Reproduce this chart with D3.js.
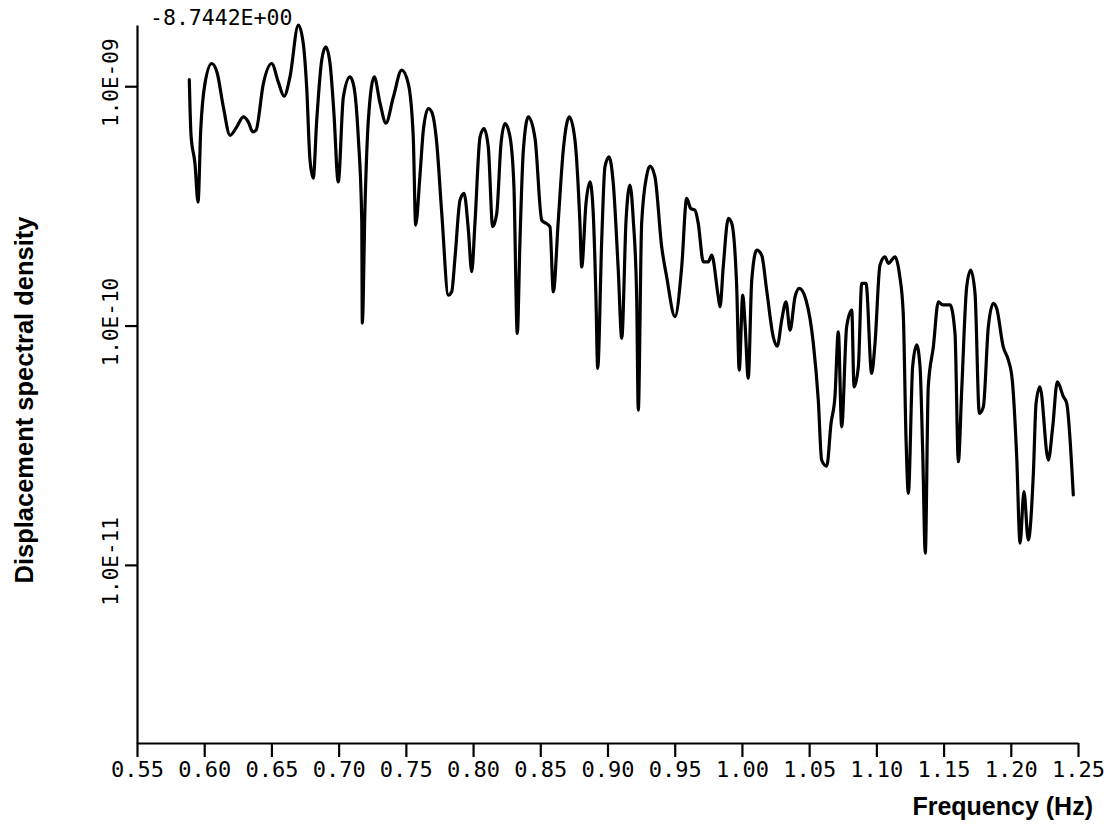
<!DOCTYPE html>
<html>
<head>
<meta charset="utf-8">
<script src="https://cdn.jsdelivr.net/npm/d3@7"></script>
<style>
  html, body { margin: 0; padding: 0; background: #fff; }
  svg { display: block; }
  .tick-label { font-family: "DejaVu Sans Mono", "Liberation Mono", monospace; fill: #000; }
  .title { font-family: "Liberation Sans", Arial, sans-serif; font-weight: bold; fill: #000; }
</style>
</head>
<body>
<svg id="chart" width="1114" height="824"></svg>
<script>
// Displacement spectral density vs frequency (log10 of the density, as plotted)
const frequencyHz = [
  0.5889, 0.5902, 0.5931, 0.5954, 0.5974, 0.6006, 0.6056, 0.6097, 0.6142, 0.6192,
  0.6242, 0.6291, 0.6328, 0.6361, 0.6385, 0.6440, 0.6502, 0.6551, 0.6594, 0.6638,
  0.6700, 0.6737, 0.6762, 0.6787, 0.6811, 0.6837, 0.6874, 0.6904, 0.6936, 0.6965,
  0.6997, 0.7035, 0.7085, 0.7114, 0.7146, 0.7172, 0.7176, 0.7196, 0.7221, 0.7265,
  0.7308, 0.7352, 0.7407, 0.7469, 0.7518, 0.7555, 0.7573, 0.7605, 0.7630, 0.7667,
  0.7692, 0.7729, 0.7767, 0.7816, 0.7841, 0.7866, 0.7903, 0.7933, 0.7965, 0.7990,
  0.8014, 0.8052, 0.8081, 0.8113, 0.8146, 0.8176, 0.8208, 0.8238, 0.8275, 0.8304,
  0.8329, 0.8349, 0.8374, 0.8411, 0.8461, 0.8511, 0.8543, 0.8572, 0.8597, 0.8634,
  0.8671, 0.8716, 0.8758, 0.8795, 0.8808, 0.8840, 0.8870, 0.8894, 0.8914, 0.8927,
  0.8957, 0.8981, 0.9011, 0.9043, 0.9080, 0.9106, 0.9138, 0.9167, 0.9192, 0.9217,
  0.9229, 0.9254, 0.9292, 0.9316, 0.9353, 0.9403, 0.9440, 0.9502, 0.9552, 0.9589,
  0.9619, 0.9651, 0.9675, 0.9713, 0.9750, 0.9775, 0.9824, 0.9837, 0.9861, 0.9899,
  0.9924, 0.9961, 0.9980, 1.0006, 1.0023, 1.0047, 1.0073, 1.0110, 1.0147, 1.0184,
  1.0233, 1.0263, 1.0296, 1.0328, 1.0358, 1.0395, 1.0427, 1.0477, 1.0531, 1.0568,
  1.0593, 1.0631, 1.0663, 1.0692, 1.0717, 1.0742, 1.0779, 1.0817, 1.0834, 1.0866,
  1.0891, 1.0923, 1.0965, 1.0990, 1.1027, 1.1064, 1.1089, 1.1139, 1.1171, 1.1200,
  1.1221, 1.1238, 1.1270, 1.1300, 1.1325, 1.1345, 1.1364, 1.1386, 1.1424, 1.1461,
  1.1494, 1.1548, 1.1585, 1.1610, 1.1635, 1.1672, 1.1702, 1.1734, 1.1766, 1.1796,
  1.1833, 1.1870, 1.1895, 1.1944, 1.1982, 1.2011, 1.2044, 1.2069, 1.2098, 1.2130,
  1.2168, 1.2188, 1.2217, 1.2279, 1.2312, 1.2346, 1.2391, 1.2416, 1.2465
];

const log10Density = [
  -8.972, -9.205, -9.322, -9.484, -9.184, -8.987, -8.905, -8.946, -9.086, -9.205,
  -9.170, -9.128, -9.149, -9.191, -9.184, -8.989, -8.905, -8.982, -9.042, -8.961,
  -8.7442, -8.822, -9.003, -9.309, -9.384, -9.142, -8.891, -8.836, -8.905, -9.113,
  -9.400, -9.045, -8.961, -9.003, -9.212, -9.560, -9.990, -9.504, -9.142, -8.961,
  -9.071, -9.154, -9.045, -8.933, -8.989, -9.212, -9.580, -9.372, -9.184, -9.093,
  -9.107, -9.233, -9.530, -9.873, -9.859, -9.713, -9.476, -9.448, -9.601, -9.775,
  -9.572, -9.212, -9.177, -9.253, -9.587, -9.532, -9.239, -9.156, -9.212, -9.420,
  -10.033, -9.643, -9.267, -9.128, -9.218, -9.560, -9.573, -9.587, -9.859, -9.560,
  -9.267, -9.128, -9.225, -9.573, -9.755, -9.490, -9.400, -9.532, -9.880, -10.179,
  -9.643, -9.337, -9.295, -9.406, -9.768, -10.053, -9.560, -9.413, -9.560, -9.880,
  -10.353, -9.573, -9.372, -9.334, -9.379, -9.671, -9.796, -9.963, -9.755, -9.469,
  -9.511, -9.518, -9.573, -9.734, -9.734, -9.706, -9.880, -9.922, -9.755, -9.552,
  -9.573, -9.838, -10.186, -9.873, -9.991, -10.220, -9.810, -9.685, -9.706, -9.852,
  -10.047, -10.086, -9.977, -9.901, -10.019, -9.880, -9.845, -9.894, -10.074, -10.311,
  -10.562, -10.587, -10.408, -10.297, -10.026, -10.423, -10.005, -9.935, -10.256, -10.172,
  -9.824, -9.824, -10.200, -10.074, -9.747, -9.713, -9.740, -9.713, -9.782, -9.949,
  -10.478, -10.701, -10.172, -10.081, -10.172, -10.534, -10.951, -10.256, -10.089, -9.901,
  -9.914, -9.914, -10.033, -10.569, -10.269, -9.838, -9.768, -9.866, -10.367, -10.339,
  -10.005, -9.907, -9.928, -10.089, -10.144, -10.228, -10.548, -10.909, -10.694, -10.896,
  -10.617, -10.325, -10.256, -10.562, -10.423, -10.235, -10.297, -10.325, -10.708
];

// Axis settings
const xTicks = [0.55, 0.60, 0.65, 0.70, 0.75, 0.80, 0.85, 0.90, 0.95, 1.00, 1.05, 1.10, 1.15, 1.20, 1.25];
const yTicks = [1e-9, 1e-10, 1e-11];
const yTickLabels = ["1.0E-09", "1.0E-10", "1.0E-11"];
const yTopLog = -8.7442;          // upper limit of the plot, log10 units
const yDecades = 3;               // vertical span in decades
const topLabel = "-8.7442E+00";
const xTitle = "Frequency (Hz)";
const yTitle = "Displacement spectral density";

const svg = d3.select("#chart");
const margin = { left: 137, right: 1078, top: 25, bottom: 743 };

const x = d3.scaleLinear().domain([0.55, 1.25]).range([margin.left, margin.right]);
const y = d3.scaleLog()
  .domain([Math.pow(10, yTopLog - yDecades), Math.pow(10, yTopLog)])
  .range([margin.bottom, margin.top]);

const data = frequencyHz.map((f, i) => ({ f, p: Math.pow(10, log10Density[i]) }));

// X axis
const xAxis = d3.axisBottom(x)
  .tickValues(xTicks)
  .tickFormat(d3.format(".2f"))
  .tickSizeInner(14)
  .tickSizeOuter(0)
  .tickPadding(6);

const gx = svg.append("g")
  .attr("transform", `translate(0,${margin.bottom})`)
  .call(xAxis);
gx.select(".domain").attr("stroke", "#000").attr("stroke-width", 2.2);
gx.selectAll(".tick line").attr("stroke", "#000").attr("stroke-width", 2.2);
gx.selectAll(".tick text")
  .attr("class", "tick-label")
  .attr("font-size", 22)
  .attr("dy", "0.71em")
  .attr("y", 18);

// Y axis
const yAxis = d3.axisLeft(y)
  .tickValues(yTicks)
  .tickFormat((d, i) => yTickLabels[i])
  .tickSizeInner(12)
  .tickSizeOuter(0);

const gy = svg.append("g")
  .attr("transform", `translate(${margin.left},0)`)
  .call(yAxis);
gy.select(".domain").attr("stroke", "#000").attr("stroke-width", 2.2);
gy.selectAll(".tick line").attr("stroke", "#000").attr("stroke-width", 2.2);
gy.selectAll(".tick text")
  .attr("class", "tick-label")
  .attr("font-size", 21)
  .attr("x", null).attr("dy", null)
  .attr("text-anchor", "middle")
  .attr("transform", "translate(-19,-4) rotate(-90)");

// Upper limit label
svg.append("text")
  .attr("class", "tick-label")
  .attr("x", 150)
  .attr("y", 25)
  .attr("font-size", 21.5)
  .text(topLabel);

// Spectrum curve
const line = d3.line()
  .curve(d3.curveMonotoneX)
  .x(d => x(d.f))
  .y(d => y(d.p));

svg.append("path")
  .datum(data)
  .attr("d", line)
  .attr("fill", "none")
  .attr("stroke", "#000")
  .attr("stroke-width", 3.2)
  .attr("stroke-linejoin", "round")
  .attr("stroke-linecap", "round");

// Axis titles
svg.append("text")
  .attr("class", "title")
  .attr("x", 1093)
  .attr("y", 815)
  .attr("text-anchor", "end")
  .attr("font-size", 25)
  .text(xTitle);

svg.append("text")
  .attr("class", "title")
  .attr("transform", "translate(33,400) rotate(-90)")
  .attr("text-anchor", "middle")
  .attr("font-size", 25.5)
  .text(yTitle);
</script>
</body>
</html>
